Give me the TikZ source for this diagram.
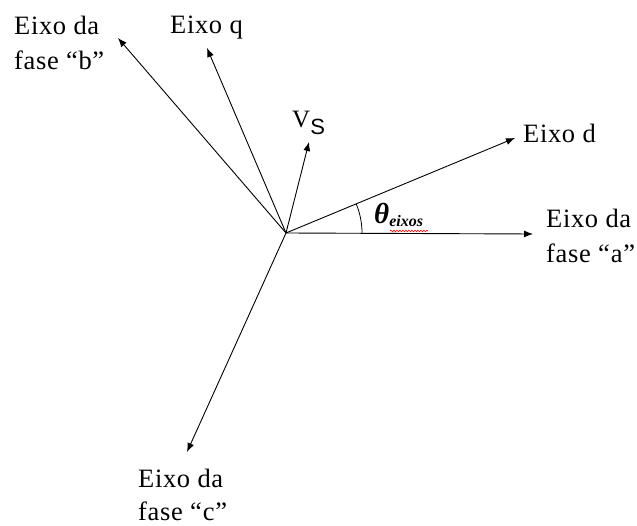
\documentclass[tikz,border=0pt]{standalone}
\usepackage{fontspec}
\setmainfont{Liberation Serif}[LetterSpace=2.5]
\newfontfamily\subsans{Liberation Sans}
\newfontfamily\thetafont{Liberation Serif}
\usetikzlibrary{arrows.meta,decorations.pathmorphing}
\begin{document}
\begin{tikzpicture}[x=1pt,y=-1pt,
  vec/.style={line width=0.9pt,-{Latex[length=9pt,width=7pt]}},
  lbl/.style={inner sep=0pt,align=left,anchor=base west,font=\fontsize{26.5}{35}\selectfont}]
\useasboundingbox[fill=white] (0,0) rectangle (637,526);
\coordinate (O) at (286,233);
\coordinate (ta) at (533,234);
\coordinate (tb) at (118,38);
\coordinate (tc) at (187,452);
\coordinate (tq) at (207,48);
\coordinate (td) at (515,138);
\coordinate (tv) at (309,142);
\draw[vec] (O) -- (ta);
\draw[vec] (O) -- (tb);
\draw[vec] (O) -- (tc);
\draw[vec] (O) -- (tq);
\draw[vec] (O) -- (td);
\draw[vec] (O) -- (tv);
% angle arc
\draw[line width=0.8pt] (O) ++(0:76) arc[start angle=0,end angle=-22.3,radius=76];
% labels
\node[lbl] (la1) at (546,228) {Eixo da};
\node[lbl] (la2) at (546,263) {fase \char"201C\kern1pt a\char"201D};
\node[lbl] (lb1) at (14,35) {Eixo da};
\node[lbl] (lb2) at (14,70) {fase \char"201C b\char"201D};
\node[lbl] (lc1) at (138,487) {Eixo da};
\node[lbl] (lc2) at (138,520) {fase \char"201C\kern1pt c\char"201D};
\node[lbl] (lq) at (170,34) {Eixo q};
\node[lbl] (ld) at (523,143) {Eixo d};
\node[inner sep=0pt,anchor=base west,font=\fontsize{25}{28}\selectfont] (lv) at (292,128) {V\raisebox{-7pt}{\subsans\fontsize{22}{24}\selectfont S}};
\node[inner sep=0pt,anchor=base west] (lt) at (374,224) {\thetafont\fontsize{29}{30}\selectfont\bfseries\itshape θ\raisebox{-3pt}{\fontsize{16}{18}\selectfont eixos}};
\draw[red,line width=0.6pt,decorate,decoration={snake,amplitude=0.8pt,segment length=3pt}] (390,231) -- (428,231);
\end{tikzpicture}
\end{document}
